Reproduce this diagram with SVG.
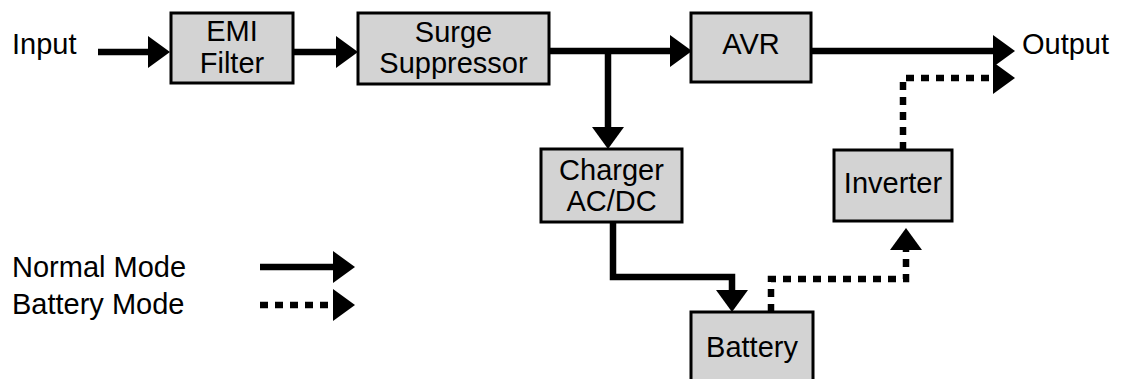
<svg xmlns="http://www.w3.org/2000/svg" width="1126" height="379" viewBox="0 0 1126 379">
<style>
.box{fill:#d3d3d3;stroke:#000;stroke-width:3}
.t{font-family:"Liberation Sans",Arial,sans-serif;font-size:29px;fill:#000}
.c{text-anchor:middle}
.w{fill:none;stroke:#000;stroke-width:6.5}
.d{stroke-dasharray:8 7}
</style>
<defs>
<marker id="ah" markerUnits="userSpaceOnUse" markerWidth="24" markerHeight="34" refX="0" refY="16" orient="auto" overflow="visible">
<path d="M0,0 L22,16 L0,32 z" fill="#000"/>
</marker>
</defs>
<rect width="1126" height="379" fill="#fff"/>
<g id="connectors">
<path class="w" d="M98,52 H148" marker-end="url(#ah)"/>
<path class="w" d="M293,52 H336" marker-end="url(#ah)"/>
<path class="w" d="M549,51 H670" marker-end="url(#ah)"/>
<path class="w" d="M608,51 V127" marker-end="url(#ah)"/>
<path class="w" d="M811,51 H993" marker-end="url(#ah)"/>
<path class="w" d="M613,222 V277 H732 V290" marker-end="url(#ah)"/>
<path class="w d" d="M771,312 V279 H906 V250" marker-end="url(#ah)"/>
<path class="w d" d="M903,150 V78 H993" marker-end="url(#ah)"/>
<path class="w" d="M260,267 H333" marker-end="url(#ah)"/>
<path class="w d" d="M260,305 H333" marker-end="url(#ah)"/>
</g>
<g id="input"><text class="t" x="12" y="54">Input</text></g>
<g id="output"><text class="t" x="1022" y="54">Output</text></g>
<g id="emi"><rect class="box" x="171" y="13" width="122" height="70"/><text class="t c" x="232" y="41">EMI</text><text class="t c" x="232" y="73">Filter</text></g>
<g id="surge"><rect class="box" x="358" y="13" width="191" height="71"/><text class="t c" x="453.5" y="42">Surge</text><text class="t c" x="453.5" y="73">Suppressor</text></g>
<g id="avr"><rect class="box" x="691" y="13" width="120" height="69"/><text class="t c" x="751" y="54">AVR</text></g>
<g id="charger"><rect class="box" x="541" y="149" width="141" height="73"/><text class="t c" x="611.5" y="180">Charger</text><text class="t c" x="611.5" y="211">AC/DC</text></g>
<g id="inverter"><rect class="box" x="834" y="150" width="118" height="71"/><text class="t c" x="893" y="193">Inverter</text></g>
<g id="battery"><rect class="box" x="691" y="312" width="122" height="80"/><text class="t c" x="752" y="357">Battery</text></g>
<g id="legend"><text class="t" x="12" y="277">Normal Mode</text><text class="t" x="12" y="314">Battery Mode</text></g>
</svg>
